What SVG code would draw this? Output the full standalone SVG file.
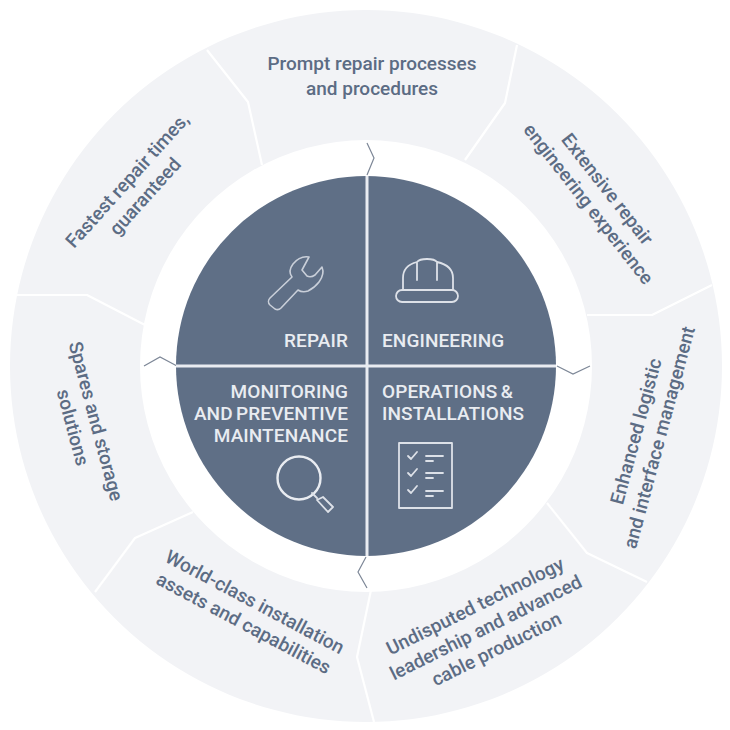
<svg xmlns="http://www.w3.org/2000/svg" width="730" height="730" viewBox="0 0 730 730">
<style>
.div{fill:none;stroke:#fff;stroke-width:2.2;stroke-linejoin:round}
.zig{fill:none;stroke:#7d8797;stroke-width:1.2}
.sep{fill:none;stroke:#e9ecf1;stroke-width:3}
.icon{fill:none;stroke:#dde1e8;stroke-width:1.8;stroke-linejoin:round;stroke-linecap:round}
.t{font-family:Roboto,"Liberation Sans",sans-serif;font-size:19px;font-weight:500;fill:#5c6c84;text-anchor:middle}
.h{font-family:Roboto,"Liberation Sans",sans-serif;font-size:19px;font-weight:500;letter-spacing:.1px;word-spacing:-1.5px;fill:#e9ecf1}
</style>
<rect width="730" height="730" fill="#fff"/>
<g id="ring">
<path fill="#f2f3f6" fill-rule="evenodd" d="M366 10a356 356 0 1 0 .01 0zM366 140a226 226 0 1 1 -.01 0z"/>
</g>
<g id="connectors">
<path class="div" d="M207 50L248 102L262 165"/>
<path class="div" d="M517 45L505 103L465 160"/>
<path class="div" d="M712 285L652 315L587 315"/>
<path class="div" d="M547 503L587 553L647 582"/>
<path class="div" d="M371 590L357 657L374 722"/>
<path class="div" d="M193 512L135 538L95 592"/>
<path class="div" d="M14 295L87 295L145 325"/>
<path class="zig" d="M367 143L374 158L367 175"/>
<path class="zig" d="M144 366L160 357L177 366"/>
<path class="zig" d="M557 366L573 374L590 366"/>
<path class="zig" d="M366 557L358 572L367 588"/>
</g>
<g id="disc">
<circle cx="366" cy="366" r="190" fill="#5f6f86"/>
<path class="sep" d="M367 176V556M176 366H556"/>
</g>
<g id="repair">
<path class="icon" style="stroke:#c9cfd9;stroke-width:1.6" d="M309 257C303 256 297 259 293 264C290 268 289 273 292 277L270 298C268 300 268 303 270 305L275 309C277 310 279 310 281 308L298 290C301 292 305 292 308 291C312 289 316 286 319 282C322 278 324 272 322 267L315 275C312 277 309 277 307 276L302 270Z"/>
<text class="h" x="348" y="347" text-anchor="end">REPAIR</text>
</g>
<g id="engineering">
<path class="icon" d="M403 290V278C403 269 409 264 417 262C420 258 434 258 437 262C446 264 453 269 453 278V290M417 263V280M437 263V280"/>
<rect class="icon" x="396" y="290" width="62" height="12" rx="6"/>
<text class="h" x="382" y="347">ENGINEERING</text>
</g>
<g id="monitoring">
<text class="h" x="348" y="398" text-anchor="end">MONITORING</text>
<text class="h" x="348" y="420" text-anchor="end">AND PREVENTIVE</text>
<text class="h" x="348" y="442" text-anchor="end">MAINTENANCE</text>
<circle class="icon" cx="299" cy="478" r="21.5" style="stroke-width:2.4;stroke:#e9ecf1"/>
<path class="icon" d="M312 493L317 498M317 500L323 497L333 507L328 512Z"/>
</g>
<g id="operations">
<text class="h" x="382" y="398">OPERATIONS &amp;</text>
<text class="h" x="382" y="420">INSTALLATIONS</text>
<rect class="icon" x="399" y="443" width="53" height="65"/>
<path class="icon" d="M408 456l3 3 6-7M408 473l3 3 6-7M408 490l3 3 6-7M426 456h17M426 461h7M426 473h17M426 478h7M426 491h17M426 496h7"/>
</g>
<g id="n1"><text class="t" x="372" y="70">Prompt repair processes</text><text class="t" x="372" y="95">and procedures</text></g>
<g id="n2" transform="translate(596 198) rotate(52)"><text class="t" x="0" y="-8">Extensive repair</text><text class="t" x="0" y="16">engineering experience</text></g>
<g id="n3" transform="translate(650 435) rotate(-75)"><text class="t" x="0" y="-8">Enhanced logistic</text><text class="t" x="0" y="16">and interface management</text></g>
<g id="n4" transform="translate(486 628) rotate(-26.5)"><text class="t" x="0" y="-18">Undisputed technology</text><text class="t" x="0" y="6">leadership and advanced</text><text class="t" x="0" y="30">cable production</text></g>
<g id="n5" transform="translate(249 613) rotate(28)"><text class="t" x="0" y="-6">World-class installation</text><text class="t" x="0" y="18">assets and capabilities</text></g>
<g id="n6" transform="translate(82 425) rotate(75)"><text class="t" x="0" y="-8">Spares and storage</text><text class="t" x="0" y="16">solutions</text></g>
<g id="n7" transform="translate(138 190) rotate(-48)"><text class="t" x="0" y="-8">Fastest repair times,</text><text class="t" x="0" y="16">guaranteed</text></g>
</svg>
